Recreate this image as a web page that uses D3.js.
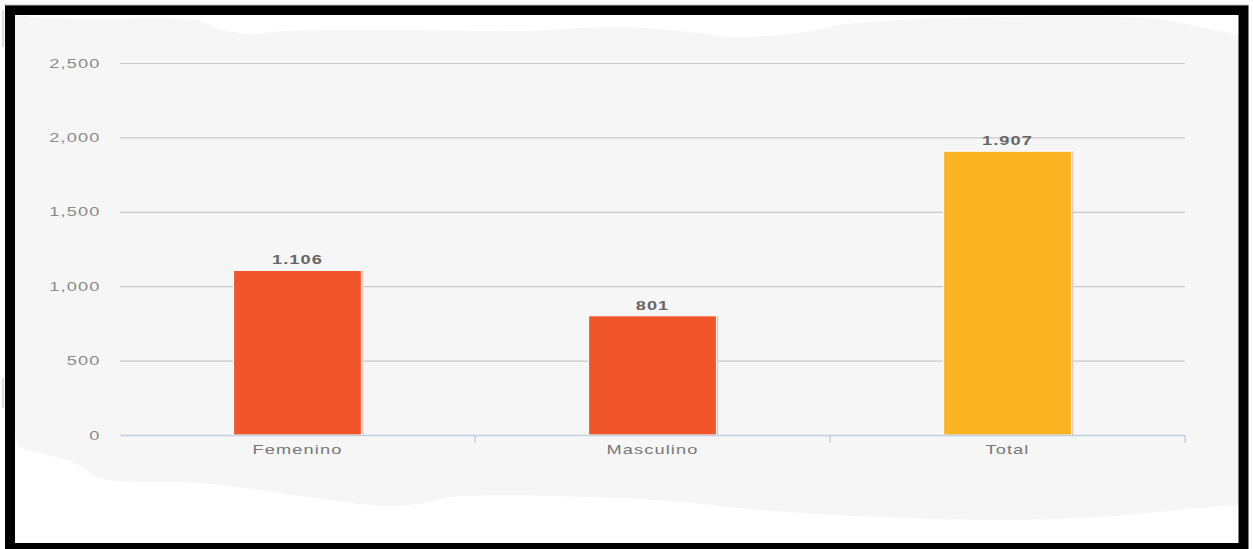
<!DOCTYPE html>
<html>
<head>
<meta charset="utf-8">
<script src="https://cdn.jsdelivr.net/npm/d3@7"></script>
<style>
  html, body { margin: 0; padding: 0; background: #fff; }
  svg { display: block; font-family: "Liberation Sans", Arial, sans-serif; }
</style>
</head>
<body>
<svg id="chart" width="1253" height="549"></svg>
<script>
// chart values
const categories = ["Femenino", "Masculino", "Total"];
const values = [1106, 801, 1907];
const valueLabels = ["1.106", "801", "1.907"];
const barColors = ["#f0562a", "#f0562a", "#fdb422"];
const yTicks = [0, 500, 1000, 1500, 2000, 2500];

// outline of the torn grey paper behind the chart (decoration only)
const paperTop = [[5,12],[15,15],[75,19],[200,21],[218,29],[250,34],[285,31],[400,30],[520,31],[620,27],[700,33],[730,37],[800,33],[840,25],[900,20],[980,17],[1150,18],[1200,27],[1239,35],[1248,36]];
const paperBottom = [[1248,505],[1239,505],[1200,508],[1100,517],[1000,520],[880,517],[760,510],[680,502],[620,498],[450,497],[430,502],[390,506],[330,500],[245,488],[200,483],[100,478],[75,463],[40,453],[20,447],[15,437],[5,434]];

const svg = d3.select("#chart");
const margin = { top: 63, right: 68, bottom: 114, left: 120 };
const W = 1253, H = 549;
const width = W - margin.left - margin.right;
const height = H - margin.top - margin.bottom;
const stretch = 1.4; // the screenshot text is widened

// grey paper
svg.append("path")
    .attr("d", d3.line().curve(d3.curveCatmullRom)(paperTop) + "L" +
        d3.line().curve(d3.curveCatmullRom)(paperBottom).slice(1) + "Z")
    .attr("fill", "#f6f6f6");

const g = svg.append("g")
    .attr("transform", `translate(${margin.left},${margin.top})`);

const x = d3.scaleBand()
    .domain(categories)
    .range([0, width])
    .padding(0);

const y = d3.scaleLinear()
    .domain([0, 2500])
    .range([height, 0]);

// y axis with grid lines
const yAxis = g.append("g")
    .call(d3.axisLeft(y).tickValues(yTicks).tickFormat(d3.format(",")).tickSize(-width).tickPadding(14));
yAxis.select(".domain").remove();
yAxis.selectAll(".tick line")
    .attr("stroke", "#cacaca")
    .attr("stroke-width", 1.2)
    .attr("opacity", d => d === 0 ? 0 : 1);
yAxis.selectAll(".tick text")
    .attr("transform", `scale(${stretch},1)`)
    .attr("fill", "#8a8a8a")
    .style("font-size", "13px")
    .style("letter-spacing", "0.8px");

// bars
const barW = x.bandwidth() * 0.36;
const bars = g.selectAll(".bar")
    .data(values)
    .enter()
    .append("g")
    .attr("class", "bar");

bars.append("rect") // shadow
    .attr("x", (d, i) => x(categories[i]) + (x.bandwidth() - barW) / 2 + 2)
    .attr("y", d => y(d))
    .attr("width", barW)
    .attr("height", d => height - y(d))
    .attr("fill", "#d2d2d2");

bars.append("rect")
    .attr("x", (d, i) => x(categories[i]) + (x.bandwidth() - barW) / 2)
    .attr("y", d => y(d))
    .attr("width", barW)
    .attr("height", d => height - y(d))
    .attr("fill", (d, i) => barColors[i])
    .attr("stroke", "#ffffff")
    .attr("stroke-width", 1);

// value labels
bars.append("text")
    .attr("transform", (d, i) => `translate(${x(categories[i]) + x.bandwidth() / 2},${y(d) - 6}) scale(${stretch},1)`)
    .attr("text-anchor", "middle")
    .attr("fill", "#666")
    .style("font-size", "13px")
    .style("font-weight", "bold")
    .style("letter-spacing", "0.8px")
    .text((d, i) => valueLabels[i]);

// x axis
const xAxis = g.append("g")
    .attr("transform", `translate(0,${height})`)
    .call(d3.axisBottom(x).tickSize(0).tickPadding(10));
xAxis.select(".domain")
    .attr("stroke", "#c0d0e0")
    .attr("stroke-width", 1.5);
xAxis.selectAll(".tick text")
    .attr("transform", `scale(${stretch},1)`)
    .attr("fill", "#777")
    .style("font-size", "13px")
    .style("letter-spacing", "0.8px");

// category boundary ticks
xAxis.selectAll(".boundary")
    .data(categories)
    .enter()
    .append("line")
    .attr("x1", d => x(d) + x.bandwidth())
    .attr("x2", d => x(d) + x.bandwidth())
    .attr("y1", 0)
    .attr("y2", 8)
    .attr("stroke", "#c0d0e0")
    .attr("stroke-width", 1.5);

// black frame
svg.append("rect")
    .attr("x", 10)
    .attr("y", 10)
    .attr("width", 1233.5)
    .attr("height", 538)
    .attr("fill", "none")
    .attr("stroke", "#000")
    .attr("stroke-width", 10);

// faint edges outside the frame
svg.append("line")
    .attr("x1", 4).attr("x2", 1249).attr("y1", 5).attr("y2", 5)
    .attr("stroke", "#bbb").attr("stroke-width", 1);
svg.append("line")
    .attr("x1", 3).attr("x2", 3).attr("y1", 10).attr("y2", 47)
    .attr("stroke", "#ddd").attr("stroke-width", 2);
svg.append("line")
    .attr("x1", 3).attr("x2", 3).attr("y1", 378).attr("y2", 408)
    .attr("stroke", "#ddd").attr("stroke-width", 2);
</script>
</body>
</html>
